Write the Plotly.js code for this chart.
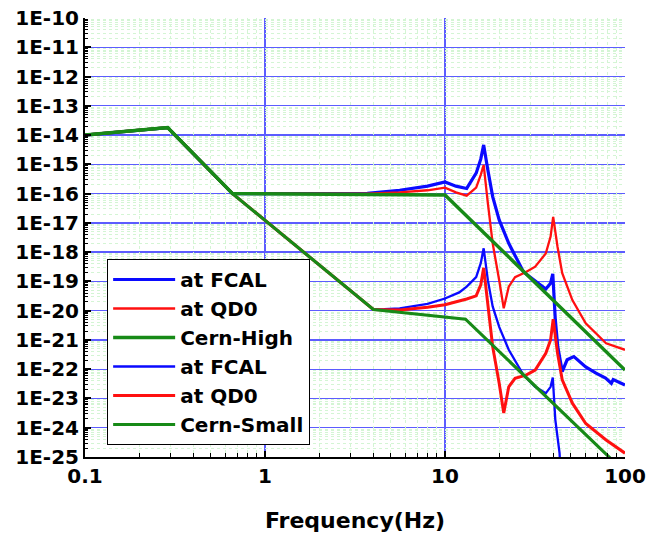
<!DOCTYPE html>
<html>
<head>
<meta charset="utf-8">
<script src="https://cdn.plot.ly/plotly-3.0.1.min.js"></script>
<style>
  html, body { margin: 0; padding: 0; background: #ffffff; }
  #chart { width: 654px; height: 536px; }
</style>
</head>
<body>
<div id="chart"></div>
<script>
// ---- Data ----
// Cern-High ground motion model
const freqCernHigh = [0.1, 0.288, 0.66, 10, 100];
const cernHigh     = [1e-14, 1.8e-14, 1e-16, 9e-17, 9.3e-23];

// Cern-Small ground motion model
const freqCernSmall = [0.1, 0.288, 0.66, 4.0, 13, 100];
const cernSmall     = [1e-14, 1.8e-14, 1e-16, 1.1e-20, 5.1e-21, 3e-26];

// at FCAL, Cern-High
const freqFcalHigh = [0.1, 0.288, 0.66, 2.0, 3.7, 5.6, 8.0, 10, 11.5, 13.2, 14.9, 15.8, 16.4,
  17.3, 18.4, 20.0, 22.6, 27.3, 31.7, 36.3, 38.6, 39.7, 41, 42.3, 44.8, 47.7, 52, 60.5, 69,
  78, 84, 86, 100];
const fcalHigh = [1e-14, 1.8e-14, 1e-16, 1e-16, 1.02e-16, 1.3e-16, 1.8e-16, 2.5e-16, 1.8e-16,
  1.5e-16, 5e-16, 1.5e-15, 4.6e-15, 6.4e-16, 7.9e-17, 1.26e-17, 2e-18, 2.1e-19, 1e-19, 5.5e-20,
  8.7e-20, 1.8e-19, 5e-21, 5.9e-22, 8.3e-23, 2.1e-22, 2.7e-22, 1.2e-22, 7.3e-23, 5e-23,
  3.3e-23, 4.4e-23, 2.9e-23];

// at QD0, Cern-High
const freqQd0High = [0.1, 0.288, 0.66, 2.0, 3.7, 5.6, 8.0, 10, 11.5, 13.2, 14.9, 15.8, 16.4,
  17.3, 18.4, 20.0, 21.2, 22.6, 24.5, 28.2, 31.7, 36.3, 38.6, 39.9, 42.2, 44.8, 51, 60.5,
  78.5, 100];
const qd0High = [1e-14, 1.8e-14, 1e-16, 1e-16, 1.0e-16, 1.1e-16, 1.3e-16, 1.6e-16, 1.1e-16,
  8.5e-17, 1.6e-16, 4.4e-16, 9.5e-16, 4.7e-17, 2e-18, 1.1e-19, 1.2e-20, 6.6e-20, 1.4e-19,
  2.1e-19, 3.2e-19, 9e-19, 3.4e-18, 1.6e-17, 1.5e-18, 1.9e-19, 2.3e-20, 3.7e-21, 7.7e-22,
  4.6e-22];

// at FCAL, Cern-Small
const freqFcalSmall = [0.1, 0.288, 0.66, 4.0, 4.6, 5.6, 8.0, 10, 12, 13.2, 14.9, 15.8, 16.4,
  17.3, 18.4, 20.0, 22.6, 27.3, 31.7, 36.3, 38.6, 39.7, 41, 43.3, 45];
const fcalSmall = [1e-14, 1.8e-14, 1e-16, 1.1e-20, 1.12e-20, 1.2e-20, 1.7e-20, 2.6e-20, 4.2e-20,
  6.6e-20, 1.4e-19, 4.2e-19, 1.35e-18, 1.1e-19, 1.4e-20, 2.8e-21, 4.6e-22, 6.3e-23, 2.5e-23,
  1.5e-23, 2.5e-23, 5.2e-23, 1.9e-24, 1.35e-25, 1e-27];

// at QD0, Cern-Small
const freqQd0Small = [0.1, 0.288, 0.66, 4.0, 5.6, 8.0, 10, 12, 13.2, 14.9, 15.8, 16.4, 17.3,
  18.4, 20.0, 21.2, 22.6, 24.5, 28.2, 31.7, 36.3, 38.6, 39.9, 42.2, 44.8, 51, 60.5, 78.5, 100];
const qd0Small = [1e-14, 1.8e-14, 1e-16, 1.1e-20, 1.05e-20, 1.3e-20, 1.6e-20, 2.1e-20, 2.5e-20,
  3.2e-20, 7.6e-20, 2.9e-19, 1.4e-20, 5.9e-22, 3.3e-23, 3.2e-24, 2.5e-23, 4.9e-23, 6.3e-23,
  9.3e-23, 3.5e-22, 1e-21, 5.1e-21, 3.5e-22, 4.3e-23, 6.9e-24, 1.4e-24, 3.8e-25, 1.35e-25];

// Series names (legend order)
const seriesNames = ['at FCAL', 'at QD0', 'Cern-High', 'at FCAL', 'at QD0', 'Cern-Small'];

// Tick labels
const xTickVals = [0.1, 1, 10, 100];
const xTickText = ['0.1', '1', '10', '100'];
const yTickVals = [1e-25, 1e-24, 1e-23, 1e-22, 1e-21, 1e-20, 1e-19, 1e-18, 1e-17, 1e-16,
  1e-15, 1e-14, 1e-13, 1e-12, 1e-11, 1e-10];
const yTickText = ['1E-25', '1E-24', '1E-23', '1E-22', '1E-21', '1E-20', '1E-19', '1E-18',
  '1E-17', '1E-16', '1E-15', '1E-14', '1E-13', '1E-12', '1E-11', '1E-10'];

// ---- Styling ----
const BLUE = '#0a0aff';
const RED = '#ff1010';
const GREEN = '#178a17';
const FONT = 'DejaVu Sans, Liberation Sans, Arial, sans-serif';
const X_RANGE = [-1, 2];
const Y_RANGE = [-25, -10];

function minorVals(lo, hi) {
  const out = [];
  for (let e = lo; e < hi; e++) {
    for (let k = 2; k <= 9; k++) out.push(k * Math.pow(10, e));
  }
  return out;
}

// Drawing order: responses first, ground-motion models on top; legend order via legendrank
const traces = [
  { x: freqFcalHigh, y: fcalHigh, name: seriesNames[0], legendrank: 1, line: { color: BLUE, width: 3.2 } },
  { x: freqQd0High, y: qd0High, name: seriesNames[1], legendrank: 2, line: { color: RED, width: 2.3 } },
  { x: freqFcalSmall, y: fcalSmall, name: seriesNames[3], legendrank: 4, line: { color: BLUE, width: 2.3 } },
  { x: freqQd0Small, y: qd0Small, name: seriesNames[4], legendrank: 5, line: { color: RED, width: 3.0 } },
  { x: freqCernHigh, y: cernHigh, name: seriesNames[2], legendrank: 3, line: { color: GREEN, width: 3.4 } },
  { x: freqCernSmall, y: cernSmall, name: seriesNames[5], legendrank: 6, line: { color: GREEN, width: 3.1 } }
].map(t => Object.assign({ type: 'scatter', mode: 'lines', hoverinfo: 'skip' }, t));

// empty carrier for the minor-grid overlay axes (draws nothing)
traces.unshift({ type: 'scatter', mode: 'lines', x: [], y: [], xaxis: 'x2', yaxis: 'y2',
  showlegend: false, hoverinfo: 'skip' });

const axisCommon = {
  type: 'log',
  showline: true,
  linecolor: '#000000',
  linewidth: 2,
  mirror: false,
  zeroline: false,
  ticks: 'inside',
  ticklen: 6,
  tickwidth: 2,
  tickcolor: '#000000',
  tickmode: 'array',
  showgrid: true,
  gridcolor: '#5c5cff',
  gridwidth: 1.3,
  tickfont: { family: FONT, size: 20, color: '#000000', weight: 'bold' }
};

const minorTicks = {
  tickmode: 'array',
  ticks: 'inside', tickwidth: 1, tickcolor: '#000000',
  showgrid: false
};

const minorGridAxis = {
  type: 'log',
  tickmode: 'array',
  showticklabels: false,
  ticks: '',
  showline: false,
  zeroline: false,
  showgrid: true,
  gridcolor: '#d4f5d4',
  griddash: 'dot',
  gridwidth: 1
};

const layout = {
  width: 654,
  height: 536,
  margin: { l: 85, r: 29, t: 18, b: 79 },
  paper_bgcolor: '#ffffff',
  plot_bgcolor: '#ffffff',
  showlegend: true,
  legend: {
    x: 0.041, y: 0.451, xanchor: 'left', yanchor: 'top',
    traceorder: 'normal',
    bgcolor: '#ffffff', bordercolor: '#000000', borderwidth: 1,
    itemwidth: 62,
    font: { family: FONT, size: 20, color: '#000000', weight: 'bold' }
  },
  xaxis: Object.assign({}, axisCommon, {
    range: X_RANGE,
    tickvals: xTickVals,
    ticktext: xTickText,
    minor: Object.assign({}, minorTicks, { tickvals: minorVals(-1, 2), ticklen: 4 }),
    title: { text: 'Frequency(Hz)', standoff: 26,
      font: { family: FONT, size: 22, color: '#000000', weight: 'bold' } }
  }),
  yaxis: Object.assign({}, axisCommon, {
    range: Y_RANGE,
    tickvals: yTickVals,
    ticktext: yTickText,
    minor: Object.assign({}, minorTicks, { tickvals: minorVals(-25, -10), ticklen: 3 })
  }),
  xaxis2: Object.assign({}, minorGridAxis, {
    overlaying: 'x', anchor: 'y2', range: X_RANGE, tickvals: minorVals(-1, 2)
  }),
  yaxis2: Object.assign({}, minorGridAxis, {
    overlaying: 'y', anchor: 'x2', range: Y_RANGE, tickvals: minorVals(-25, -10)
  })
};

Plotly.newPlot('chart', traces, layout, { staticPlot: true, displayModeBar: false });
</script>
</body>
</html>
